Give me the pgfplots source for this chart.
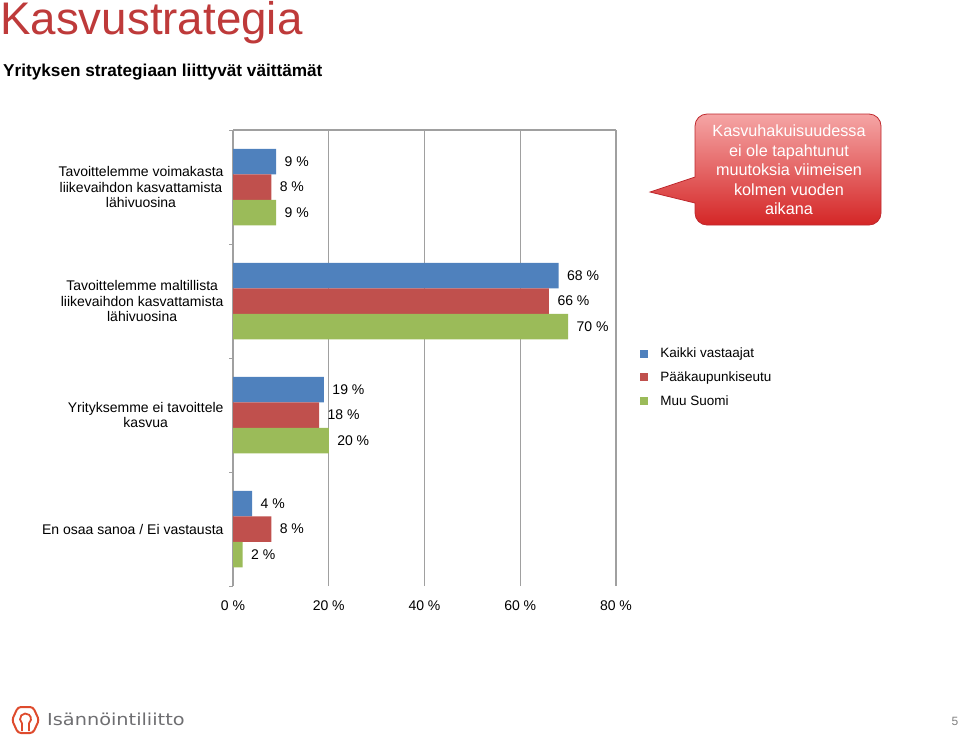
\documentclass[border=0pt]{standalone}
\usepackage{fontspec}
\setmainfont{Liberation Sans}
\newfontfamily\logofont{DejaVu Sans}
\usepackage{pgfplots}
\pgfplotsset{compat=1.18}
\definecolor{sblue}{RGB}{79,129,189}
\definecolor{sred}{RGB}{192,80,77}
\definecolor{sgreen}{RGB}{155,187,89}
\definecolor{titlered}{RGB}{190,58,58}
\definecolor{gridgray}{RGB}{160,160,160}
\definecolor{ctop}{RGB}{245,165,165}
\definecolor{cbot}{RGB}{212,38,38}
\definecolor{cborder}{RGB}{190,40,45}
\definecolor{logogray}{RGB}{110,110,113}
\definecolor{logored}{RGB}{222,75,45}
\pgfplotsset{sqleg/.style={legend image code/.code={\fill[##1,draw=none] (0pt,-4pt) rectangle (8pt,4pt);}}}
\begin{document}
\begin{tikzpicture}
\path[use as bounding box] (0pt,0pt) rectangle (960pt,-737pt);
\node[anchor=base west, inner sep=0pt, text=titlered, font=\fontsize{45.7}{50}\selectfont] at (0pt,-34.5pt) {Kasvustrategia};
\node[anchor=base west, inner sep=0pt, font=\fontsize{17.2}{20}\selectfont\bfseries] at (3pt,-76pt) {Yrityksen strategiaan liittyvät väittämät};

\begin{axis}[
  at={(233pt,-586pt)}, anchor=south west,
  scale only axis, width=383pt, height=456pt,
  xbar, bar width=25.5pt,
  xmin=0, xmax=80, ymin=-0.5, ymax=3.5,
  axis line style={draw=none},
  xtick={0,20,40,60,80},
  xticklabel={\pgfmathprintnumber{\tick}~\%},
  xticklabel style={font=\fontsize{14}{16}\selectfont, yshift=-11pt},
  xmajorgrids, major grid style={gridgray, line width=1.1pt},
  major tick length=0pt,
  ytick pos=left,
  ytick={0,1,2,3},
  yticklabels={{En osaa sanoa / Ei vastausta},{Yrityksemme ei tavoittele\\kasvua},{Tavoittelemme maltillista\\liikevaihdon kasvattamista\\lähivuosina},{Tavoittelemme voimakasta\\liikevaihdon kasvattamista\\lähivuosina}},
  yticklabel style={align=center, font=\fontsize{14}{15.5}\selectfont, xshift=-6pt},
  minor ytick={-0.5,0.5,1.5,2.5,3.5},
  minor tick length=4pt, tick align=outside,
  every minor tick/.append style={gridgray, line width=1pt},
  /pgf/number format/assume math mode=true,
  point meta=x,
  nodes near coords={\pgfmathprintnumber{\pgfplotspointmeta}~\%},
  nodes near coords align={horizontal},
  nodes near coords style={font=\fontsize{14}{16}\selectfont, anchor=west, xshift=5pt},
  legend style={at={(rel axis cs:1.055,0.531)}, anchor=north west, draw=none, fill=none, font=\fontsize{13.5}{15}\selectfont, row sep=8.5pt, /tikz/every odd column/.append style={column sep=10pt}},
  legend cell align=left,
  clip=false,
]
\addplot[fill=sblue, draw=none, bar shift=25.5pt, sqleg] coordinates {(4,0) (19,1) (68,2) (9,3)};
\addplot[fill=sred, draw=none, bar shift=0pt, sqleg] coordinates {(8,0) (18,1) (66,2) (8,3)};
\addplot[fill=sgreen, draw=none, bar shift=-25.5pt, sqleg] coordinates {(2,0) (20,1) (70,2) (9,3)};
\legend{Kaikki vastaajat, Pääkaupunkiseutu, Muu Suomi}
\draw[gridgray, line width=1.1pt] (rel axis cs:0,1) -- (rel axis cs:1,1);
\end{axis}

\shade[top color=ctop, bottom color=cbot, draw=cborder, line width=0.8pt] (650pt,-192pt) -- (695pt,-177pt) [rounded corners=12pt] -- (695pt,-114pt) -- (881pt,-114pt) -- (881pt,-225pt) -- (695pt,-225pt) [sharp corners] -- (695pt,-203pt) -- cycle;
\node[text=white, align=center, font=\fontsize{16.2}{19.6}\selectfont] at (789pt,-170pt) {Kasvuhakuisuudessa\\ei ole tapahtunut\\muutoksia viimeisen\\kolmen vuoden\\aikana};

\draw[logored, line width=2pt, rounded corners=3pt] (12pt,-720pt) -- (18pt,-707pt) -- (33pt,-707pt) -- (39pt,-720pt) -- (33pt,-733pt) -- (18pt,-733pt) -- cycle;
\draw[logored, line width=1.8pt] (22pt,-731pt) -- (21.96pt,-723.2pt) arc[start angle=230, end angle=-50, radius=5.5pt] -- (29pt,-731pt);
\node[anchor=base west, inner sep=0pt, text=logogray, font=\logofont\fontsize{16.5}{18}\selectfont] at (47pt,-725pt) {\scalebox{1.17}[1]{Isännöintiliitto}};
\node[anchor=base east, inner sep=0pt, text=gray, font=\fontsize{12}{14}\selectfont] at (958.5pt,-725pt) {5};
\end{tikzpicture}
\end{document}
